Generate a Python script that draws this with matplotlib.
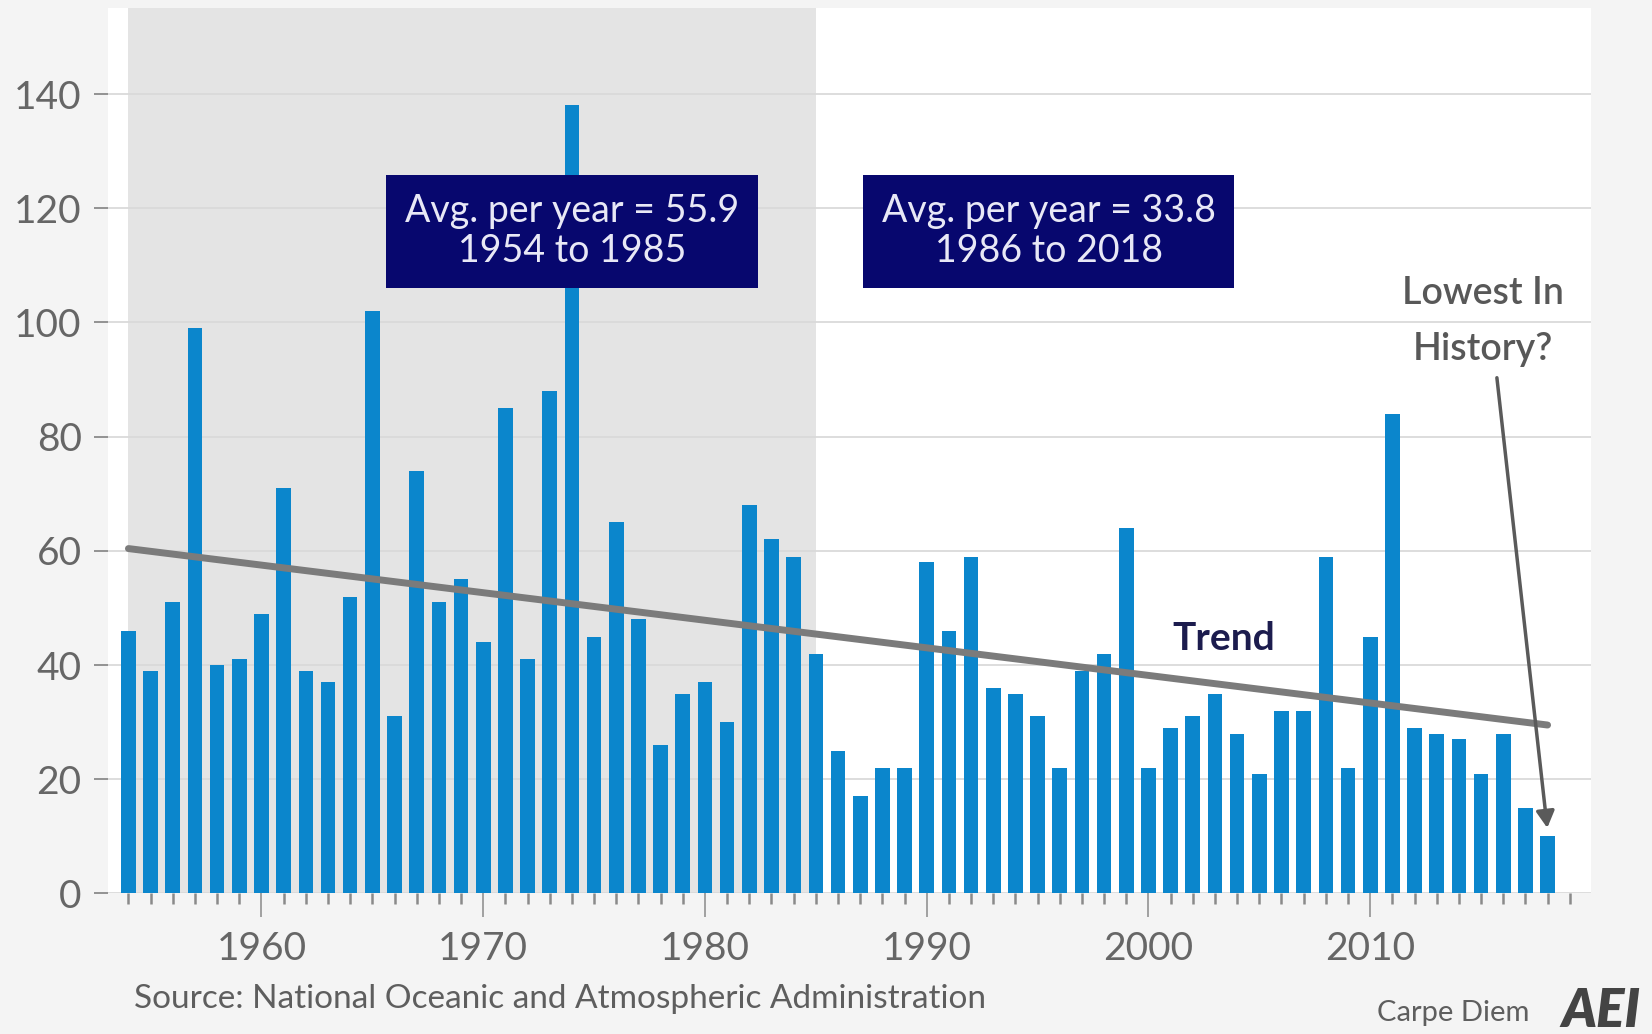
import numpy as np
import matplotlib.pyplot as plt
import matplotlib

params = {'font.family': ['Lato', 'DejaVu Sans'], 'font.weight': 'normal'}
matplotlib.rcParams.update(params)

# yearly counts, 1954-2018
years = np.arange(1954, 2019)
counts = [46, 39, 51, 99, 40, 41, 49, 71, 39, 37,
          52, 102, 31, 74, 51, 55, 44, 85, 41, 88,
          138, 45, 65, 48, 26, 35, 37, 30, 68, 62,
          59, 42, 25, 17, 22, 22, 58, 46, 59, 36,
          35, 31, 22, 39, 42, 64, 22, 29, 31, 35,
          28, 21, 32, 32, 59, 22, 45, 84, 29, 28,
          27, 21, 28, 15, 10]

# trend line end points as drawn
trend_years = [1954, 2018]
trend_vals = [60.4, 29.5]

shade_span = [1954, 1985]
box_texts = ['Avg. per year = 55.9\n1954 to 1985', 'Avg. per year = 33.8\n1986 to 2018']
box_x = [1974.0, 1995.5]
box_y = 116.0

bar_color = '#0b86cc'
navy = '#07076e'
txt_gray = '#666666'

fig = plt.figure(figsize=(16.52, 10.34), dpi=100, facecolor='#f4f4f4')
ax = fig.add_axes([0.0654, 0.1359, 0.8977, 0.856])
ax.set_facecolor('white')

ax.axvspan(shade_span[0], shade_span[1], color='#e4e4e4', lw=0, zorder=0)
ax.yaxis.grid(True, color='#dadada', lw=1.3, zorder=0.5)
ax.set_axisbelow(True)

ax.bar(years, counts, width=0.66, color=bar_color, zorder=2)
ax.plot(trend_years, trend_vals, color='#7b7b7b', lw=5, solid_capstyle='round', zorder=3)

ax.set_xlim(1953.08, 2019.96)
ax.set_ylim(0, 155)
for s in ax.spines.values():
    s.set_visible(False)

ax.set_yticks(range(0, 141, 20))
ax.set_xticks(range(1960, 2011, 10))
ax.set_xticks(range(1954, 2020), minor=True)
ax.tick_params(axis='y', length=10, width=1.3, color='#8a8a8a', labelsize=28,
               labelcolor=txt_gray, pad=9)
ax.tick_params(axis='x', which='major', length=17, width=1.3, color='#9a9a9a',
               labelsize=28, labelcolor=txt_gray, pad=10)
ax.tick_params(axis='x', which='minor', length=8, width=1.8, color='#8a8a8a')

for t, bx in zip(box_texts, box_x):
    ax.text(bx, box_y, t, ha='center', va='center', fontsize=27, color='#e8e8f6',
            linespacing=1.12, zorder=5,
            bbox=dict(boxstyle='square,pad=0.5', fc=navy, ec='none'))

ax.text(2003.4, 44.7, 'Trend', ha='center', va='center', fontsize=28,
        fontweight='bold', color='#1c1c4e', zorder=5)

ax.text(2015.1, 105, 'Lowest In', ha='center', va='center', fontsize=27,
        fontweight='semibold', color='#585858', zorder=5)
ax.text(2015.1, 95.2, 'History?', ha='center', va='center', fontsize=27,
        fontweight='semibold', color='#585858', zorder=5)
ax.annotate('', xy=(2018.0, 11.0), xytext=(2015.7, 90.8),
            arrowprops=dict(arrowstyle='-|>,head_length=1.0,head_width=0.55',
                            color='#5a5a5a', lw=2.5), zorder=6)

fig.text(0.081, 0.034, 'Source: National Oceanic and Atmospheric Administration',
         fontsize=24, color='#5e5e5e', va='center', ha='left')
fig.text(0.926, 0.02, 'Carpe Diem', fontsize=21, color='#5e5e5e',
         va='center', ha='right')
fig.text(0.993, 0.022, 'AEI', fontsize=38, color='#444444', fontweight='heavy',
         style='italic', va='center', ha='right')

plt.savefig('out.png', dpi=100, facecolor=fig.get_facecolor())
